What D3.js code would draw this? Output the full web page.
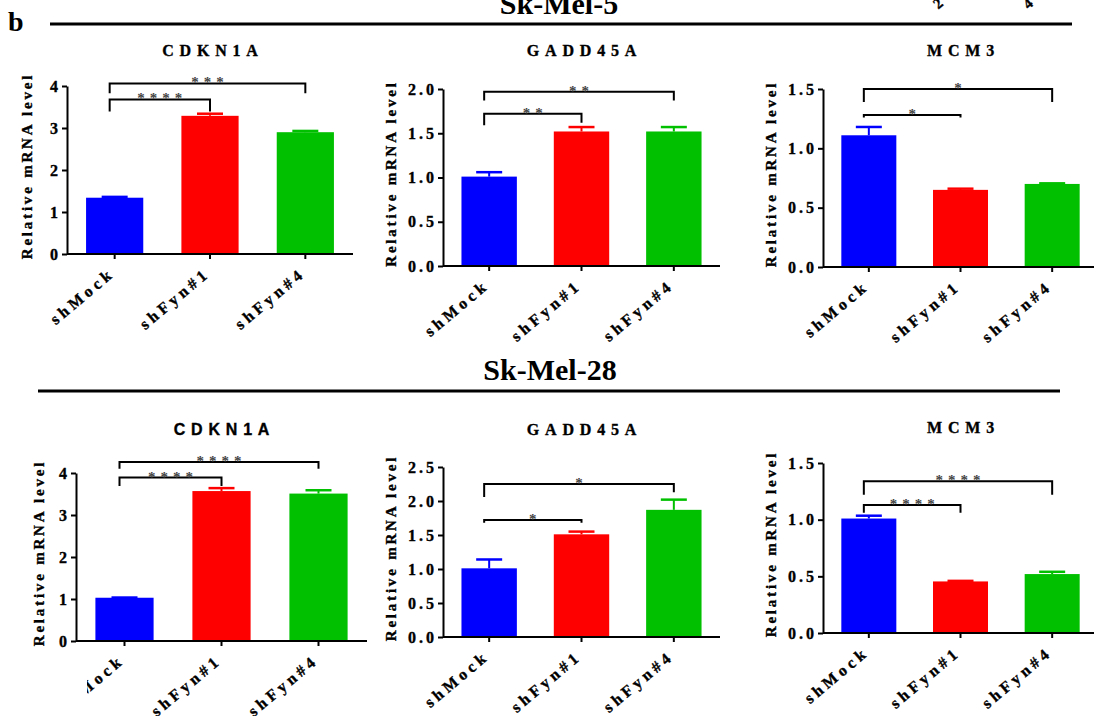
<!DOCTYPE html>
<html>
<head>
<meta charset="utf-8">
<script src="https://cdn.jsdelivr.net/npm/d3@7"></script>
<style>
  body { margin: 0; background: #fff; }
</style>
</head>
<body>
<script>
'use strict';

// groups on the x axis and their bar colours
const groups = ["shMock", "shFyn#1", "shFyn#4"];
const barColors = ["#0000FF", "#FF0000", "#00C000"];

// Sk-Mel-5: mean relative mRNA level and upper error
const mel5Cdkn1a = [1.34, 3.29, 2.90];
const mel5Cdkn1aErr = [0.02, 0.05, 0.03];
const mel5Gadd45a = [1.01, 1.52, 1.52];
const mel5Gadd45aErr = [0.05, 0.05, 0.05];
const mel5Mcm3 = [1.11, 0.65, 0.70];
const mel5Mcm3Err = [0.07, 0.01, 0.005];

// Sk-Mel-28
const mel28Cdkn1a = [1.03, 3.57, 3.51];
const mel28Cdkn1aErr = [0.005, 0.07, 0.08];
const mel28Gadd45a = [1.01, 1.51, 1.87];
const mel28Gadd45aErr = [0.13, 0.04, 0.15];
const mel28Mcm3 = [1.01, 0.455, 0.52];
const mel28Mcm3Err = [0.025, 0.005, 0.02];

// y tick values
const ticksCdkn1a = [0, 1, 2, 3, 4];
const ticksGadd45a5 = [0, 0.5, 1.0, 1.5, 2.0];
const ticksGadd45a28 = [0, 0.5, 1.0, 1.5, 2.0, 2.5];
const ticksMcm3 = [0, 0.5, 1.0, 1.5];

// significance brackets: [from group, to group, level, left leg end, right leg end, stars]
const sigMel5Cdkn1a = [[0, 2, 4.06, 3.83, 3.83, "***"], [0, 1, 3.68, 3.39, 3.39, "****"]];
const sigMel5Gadd45a = [[0, 2, 1.97, 1.87, 1.87, "**"], [0, 1, 1.72, 1.59, 1.62, "**"]];
const sigMel5Mcm3 = [[0, 2, 1.50, 1.39, 1.39, "*"], [0, 1, 1.28, 1.26, 1.26, "*"]];
const sigMel28Cdkn1a = [[0, 2, 4.26, 4.10, 4.10, "****"], [0, 1, 3.89, 3.69, 3.69, "****"]];
const sigMel28Gadd45a = [[0, 2, 2.25, 2.06, 2.13, "*"], [0, 1, 1.72, 1.68, 1.68, "*"]];
const sigMel28Mcm3 = [[0, 2, 1.34, 1.22, 1.22, "****"], [0, 1, 1.13, 1.06, 1.06, "****"]];

(function() {

  let svgContainer = ""; // keep SVG reference in global scope
  const serif = "'Liberation Serif', 'Times New Roman', serif";
  const sans = "'Liberation Sans', Arial, sans-serif";

  // where each panel sits on the page
  const panels = [
    { title: "CDKN1A", font: serif, vals: mel5Cdkn1a, err: mel5Cdkn1aErr, ticks: ticksCdkn1a, fmt: "d",
      sig: sigMel5Cdkn1a, left: 67, right: 353, bottom: 254, top: 86, labelX: 32, titleY: 56 },
    { title: "GADD45A", font: serif, vals: mel5Gadd45a, err: mel5Gadd45aErr, ticks: ticksGadd45a5, fmt: ".1f",
      sig: sigMel5Gadd45a, left: 443, right: 720, bottom: 266, top: 89, labelX: 396, titleY: 56 },
    { title: "MCM3", font: serif, vals: mel5Mcm3, err: mel5Mcm3Err, ticks: ticksMcm3, fmt: ".1f",
      sig: sigMel5Mcm3, left: 823, right: 1098, bottom: 267, top: 89, labelX: 776, titleY: 56 },
    { title: "CDKN1A", font: sans, vals: mel28Cdkn1a, err: mel28Cdkn1aErr, ticks: ticksCdkn1a, fmt: "d",
      sig: sigMel28Cdkn1a, left: 76, right: 367, bottom: 641, top: 473, labelX: 44, titleY: 435, clip: 87 },
    { title: "GADD45A", font: serif, vals: mel28Gadd45a, err: mel28Gadd45aErr, ticks: ticksGadd45a28, fmt: ".1f",
      sig: sigMel28Gadd45a, left: 443, right: 720, bottom: 637, top: 467, labelX: 396, titleY: 435 },
    { title: "MCM3", font: serif, vals: mel28Mcm3, err: mel28Mcm3Err, ticks: ticksMcm3, fmt: ".1f",
      sig: sigMel28Mcm3, left: 823, right: 1098, bottom: 633, top: 463, labelX: 776, titleY: 433 }
  ];

  window.onload = function() {
    svgContainer = d3.select('body')
      .append('svg')
      .attr('width', 1094)
      .attr('height', 716);

    makeHeaders();
    panels.forEach((p, i) => drawPanel(p, i));
  };

  // bold text, slightly thickened like the scanned figure
  function boldText(sel, font, size, spacing) {
    return sel
      .style('font-family', font)
      .style('font-weight', 'bold')
      .style('font-size', size + 'px')
      .style('letter-spacing', spacing + 'px')
      .attr('stroke', '#000')
      .attr('stroke-width', 0.35);
  }

  // panel letter, cell line names and the rules under them
  function makeHeaders() {
    svgContainer.append('text')
      .attr('x', 8)
      .attr('y', 31)
      .style('font-family', serif)
      .style('font-weight', 'bold')
      .style('font-size', '28px')
      .text('b');

    svgContainer.append('text')
      .attr('x', 559)
      .attr('y', 14)
      .attr('text-anchor', 'middle')
      .style('font-family', serif)
      .style('font-weight', 'bold')
      .style('font-size', '30px')
      .text('Sk-Mel-5');

    svgContainer.append('text')
      .attr('x', 550)
      .attr('y', 380)
      .attr('text-anchor', 'middle')
      .style('font-family', serif)
      .style('font-weight', 'bold')
      .style('font-size', '30px')
      .text('Sk-Mel-28');

    svgContainer.append('line')
      .attr('x1', 50).attr('x2', 1072)
      .attr('y1', 24).attr('y2', 24)
      .attr('stroke', '#000')
      .attr('stroke-width', 3);

    svgContainer.append('line')
      .attr('x1', 38).attr('x2', 1060)
      .attr('y1', 391).attr('y2', 391)
      .attr('stroke', '#000')
      .attr('stroke-width', 3);

    // leftover label tips from the panel above, cut by the page edge
    [["2", 944], ["4", 1034]].forEach((t) => {
      boldText(svgContainer.append('text'), serif, 15, 0)
        .attr('transform', 'translate(' + t[1] + ', 5) rotate(-40)')
        .attr('text-anchor', 'end')
        .text(t[0]);
    });
  }

  // draw one bar chart with axes, error bars and brackets
  function drawPanel(p, idx) {
    let g = svgContainer.append('g');

    let xScale = d3.scaleBand()
      .domain(groups)
      .range([p.left, p.right])
      .paddingInner(0.4)
      .paddingOuter(0.2);

    let yScale = d3.scaleLinear()
      .domain([0, d3.max(p.ticks)])
      .range([p.bottom, p.top]);

    let cx = function(i) { return xScale(groups[i]) + xScale.bandwidth() / 2; };

    // bars
    g.selectAll('.bar')
      .data(p.vals)
      .enter()
      .append('rect')
        .attr('x', (d, i) => xScale(groups[i]))
        .attr('y', (d) => yScale(d))
        .attr('width', xScale.bandwidth())
        .attr('height', (d) => yScale(0) - yScale(d))
        .attr('fill', (d, i) => barColors[i]);

    // upper error bars
    p.vals.forEach((v, i) => {
      g.append('line')
        .attr('x1', cx(i)).attr('x2', cx(i))
        .attr('y1', yScale(v)).attr('y2', yScale(v + p.err[i]))
        .attr('stroke', barColors[i])
        .attr('stroke-width', 2);
      g.append('line')
        .attr('x1', cx(i) - 13).attr('x2', cx(i) + 13)
        .attr('y1', yScale(v + p.err[i])).attr('y2', yScale(v + p.err[i]))
        .attr('stroke', barColors[i])
        .attr('stroke-width', 2.5);
    });

    // y axis
    let yAxis = d3.axisLeft(yScale)
      .tickValues(p.ticks)
      .tickFormat(d3.format(p.fmt))
      .tickSizeInner(5)
      .tickSizeOuter(0)
      .tickPadding(4);
    let ya = g.append('g')
      .attr('transform', 'translate(' + p.left + ', 0)')
      .call(yAxis);
    ya.select('.domain').attr('stroke-width', 2);
    ya.selectAll('.tick line').attr('stroke-width', 2);
    boldText(ya.selectAll('.tick text'), serif, 16, 3)
      .attr('dx', 3);

    // x axis
    let xAxis = d3.axisBottom(xScale)
      .tickSizeInner(5)
      .tickSizeOuter(0)
      .tickFormat('');
    let xa = g.append('g')
      .attr('transform', 'translate(0, ' + p.bottom + ')')
      .call(xAxis);
    xa.select('.domain')
      .attr('d', 'M' + p.left + ',0H' + p.right)
      .attr('stroke-width', 2);
    xa.selectAll('.tick line').attr('stroke-width', 2);

    // rotated group labels
    let labels = g.append('g');
    if (p.clip) {
      svgContainer.append('clipPath')
        .attr('id', 'clip' + idx)
        .append('rect')
          .attr('x', p.clip).attr('y', p.bottom)
          .attr('width', 400).attr('height', 120);
      labels.attr('clip-path', 'url(#clip' + idx + ')');
    }
    boldText(labels.selectAll('text')
      .data(groups)
      .enter()
      .append('text'), serif, 16, 4)
        .attr('transform', (d, i) => 'translate(' + (cx(i) + 1) + ', ' + (p.bottom + 21) + ') rotate(-40)')
        .attr('text-anchor', 'end')
        .text((d) => d);

    // y axis title
    boldText(g.append('text'), serif, 15, 2.8)
      .attr('transform', 'translate(' + p.labelX + ', ' + ((p.top + p.bottom) / 2 - 4) + ') rotate(-90)')
      .attr('text-anchor', 'middle')
      .text('Relative mRNA level');

    // gene name
    boldText(g.append('text'), p.font, 16, 5.8)
      .attr('x', cx(1) + 3)
      .attr('y', p.titleY)
      .attr('text-anchor', 'middle')
      .text(p.title);

    // significance brackets
    p.sig.forEach((s) => {
      let x1 = cx(s[0]) - 5;
      let x2 = cx(s[1]);
      let yl = yScale(s[2]);
      g.append('path')
        .attr('d', 'M' + x1 + ',' + yScale(s[3]) + 'V' + yl + 'H' + x2 + 'V' + yScale(s[4]))
        .attr('fill', 'none')
        .attr('stroke', '#000')
        .attr('stroke-width', 2);
      g.append('text')
        .attr('x', (x1 + x2) / 2 + 2.5)
        .attr('y', yl + 4)
        .attr('text-anchor', 'middle')
        .style('font-family', serif)
        .style('font-weight', 'bold')
        .style('font-size', '15px')
        .style('letter-spacing', '5px')
        .attr('fill', '#444')
        .text(s[5]);
    });
  }

})();
</script>
</body>
</html>
